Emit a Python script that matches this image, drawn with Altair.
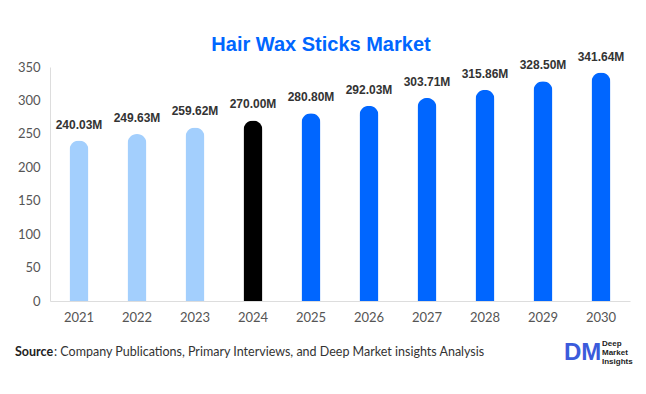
import altair as alt
import pandas as pd

years = ["2021", "2022", "2023", "2024", "2025", "2026", "2027", "2028", "2029", "2030"]
values = [240.03, 249.63, 259.62, 270.00, 280.80, 292.03, 303.71, 315.86, 328.50, 341.64]
kinds = ["past", "past", "past", "base", "fc", "fc", "fc", "fc", "fc", "fc"]
y_ticks = [0, 50, 100, 150, 200, 250, 300, 350]

df = pd.DataFrame({"year": years, "value": values, "kind": kinds})
df["label"] = [f"{v:.2f}M" for v in values]

W, H = 580, 234

x_enc = alt.X("year:N", title=None, sort=years,
              scale=alt.Scale(paddingInner=0.67, paddingOuter=0.335),
              axis=alt.Axis(labelAngle=0, labelFont="Lato", labelFontSize=13, labelColor="#555555",
                            domainColor="#dddddd", ticks=False, labelPadding=10))
y_enc = alt.Y("value:Q", title=None, scale=alt.Scale(domain=[0, 350]),
              axis=alt.Axis(values=y_ticks, grid=False, ticks=False,
                            labelFont="Lato", labelFontSize=13, labelColor="#555555",
                            domainColor="#dddddd", labelPadding=10, labelOverlap=False))

base = alt.Chart(df)

bars = base.mark_bar(size=19, cornerRadiusTopLeft=9.5, cornerRadiusTopRight=9.5).encode(
    x=x_enc, y=y_enc,
    color=alt.Color("kind:N", legend=None,
                    scale=alt.Scale(domain=["past", "base", "fc"],
                                    range=["#a3cffd", "#000000", "#0066ff"])),
)

labels = base.mark_text(dy=-16, baseline="middle", font="Liberation Sans", fontSize=12, fontWeight="bold",
                        color="#333333").encode(x=x_enc, y=y_enc, text="label:N")


def note(text, x, y, **kw):
    return alt.Chart(pd.DataFrame({"t": [text]})).mark_text(baseline="middle", **kw).encode(
        x=alt.value(x), y=alt.value(y), text="t:N")


title = note("Hair Wax Sticks Market", 271, -22, align="center", font="Liberation Sans", fontSize=20,
             fontWeight="bold", color="#0066ff")
src_bold = note("Source", -35, H + 51, align="left", font="Lato", fontSize=12.5, fontWeight="bold", color="#222222")
src_rest = note(": Company Publications, Primary Interviews, and Deep Market insights Analysis", 4, H + 51,
                align="left", font="Lato", fontSize=12.5, color="#333333")
logo = note("DM", 514, H + 52, align="left", font="Liberation Sans", fontSize=24, fontWeight="bold", color="#3b5bdb")
l1 = note("Deep", 552, H + 43, align="left", font="Liberation Sans", fontSize=8, fontWeight="bold", color="#222222")
l2 = note("Market", 552, H + 52, align="left", font="Liberation Sans", fontSize=8, fontWeight="bold", color="#222222")
l3 = note("Insights", 552, H + 61, align="left", font="Liberation Sans", fontSize=8, fontWeight="bold", color="#222222")

chart = alt.layer(bars, labels, title, src_bold, src_rest, logo, l1, l2, l3).properties(
    width=W, height=H,
    autosize=alt.AutoSizeParams(type="none"),
    padding={"left": 50, "top": 67, "right": 16, "bottom": 93},
).configure_view(stroke=None)

chart.save("out.html", embed_options={"renderer": "svg", "actions": False})
